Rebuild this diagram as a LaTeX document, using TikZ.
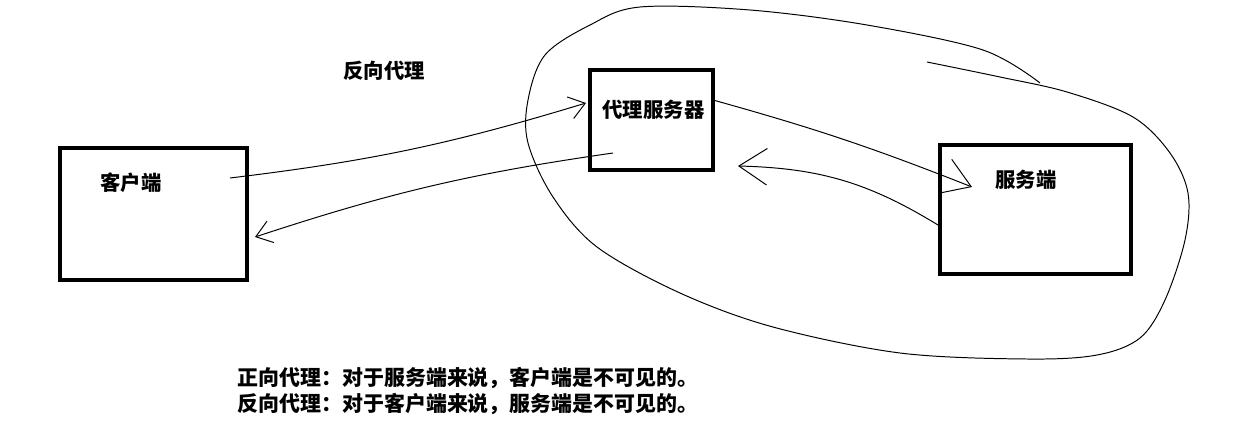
\documentclass[tikz,border=0pt]{standalone}
\usepackage{fontspec}
\usepackage{tikz}
\usetikzlibrary{arrows.meta}
\newfontfamily\cjk{Noto Sans CJK SC}

\begin{document}
\begin{tikzpicture}[x=0.025cm, y=-0.025cm, line width=0.7pt,
                    box node/.style={rectangle,draw,line width=2.8pt,inner sep=0pt},
                    txt/.style={font=\cjk\bfseries\fontsize{14.5pt}{18.4pt}\selectfont,inner sep=0pt,anchor=west},
                    small tip/.style={-{Straight Barb[length=11pt,width=16pt]}},
                    big tip/.style={-{Straight Barb[length=20pt,width=26pt]}}]
        \useasboundingbox (0,0) rectangle (1236,434);

          \node[box node, minimum width=4.675cm, minimum height=3.3cm] (client) at (153.5,214) {};
          \node[box node, minimum width=3.075cm, minimum height=2.5cm] (proxy) at (651.5,120) {};
          \node[box node, minimum width=4.775cm, minimum height=3.225cm] (server) at (1035.5,209.5) {};

          \node[txt] (client-text) at (100,183) {客户端};
          \node[txt] (proxy-text) at (602,110) {代理服务器};
          \node[txt] (server-text) at (995,180) {服务端};
          \node[txt] (title) at (343,71) {反向代理};
          \node[txt, align=left, font=\cjk\bfseries\fontsize{14.9pt}{18.4pt}\selectfont] (note) at (237,391)
            {正向代理：对于服务端来说，客户端是不可见的。\\反向代理：对于客户端来说，服务端是不可见的。};

          % the hand drawn ring round proxy and server
          \draw plot[smooth, tension=0.55] coordinates {(927,62) (1000,77) (1067,92) (1133,117) (1170,153)
            (1188,193) (1185,240) (1165,300) (1140,338) (1097,355) (1027,359) (900,353) (773,327)
            (680,293) (597,247) (553,197) (528,143) (528,100) (545,55) (590,25) (640,7) (750,10)
            (867,25) (983,50) (1040,83)};

          \path
            ([shift={(-19,-36)}]client.east) edge[small tip, bend right=5] ([shift={(-2,-17)}]proxy.west)
            ([shift={(25,33)}]proxy.west) edge[small tip, bend right=5] ([shift={(6,23)}]client.east)
            ([shift={(-2,-20)}]proxy.east) edge[big tip, bend left=3] ([shift={(34,-22.5)}]server.west)
            ([shift={(0,15.5)}]server.west) edge[big tip, bend right=15] ([shift={(23,46)}]proxy.east);
        \end{tikzpicture}
\end{document}
